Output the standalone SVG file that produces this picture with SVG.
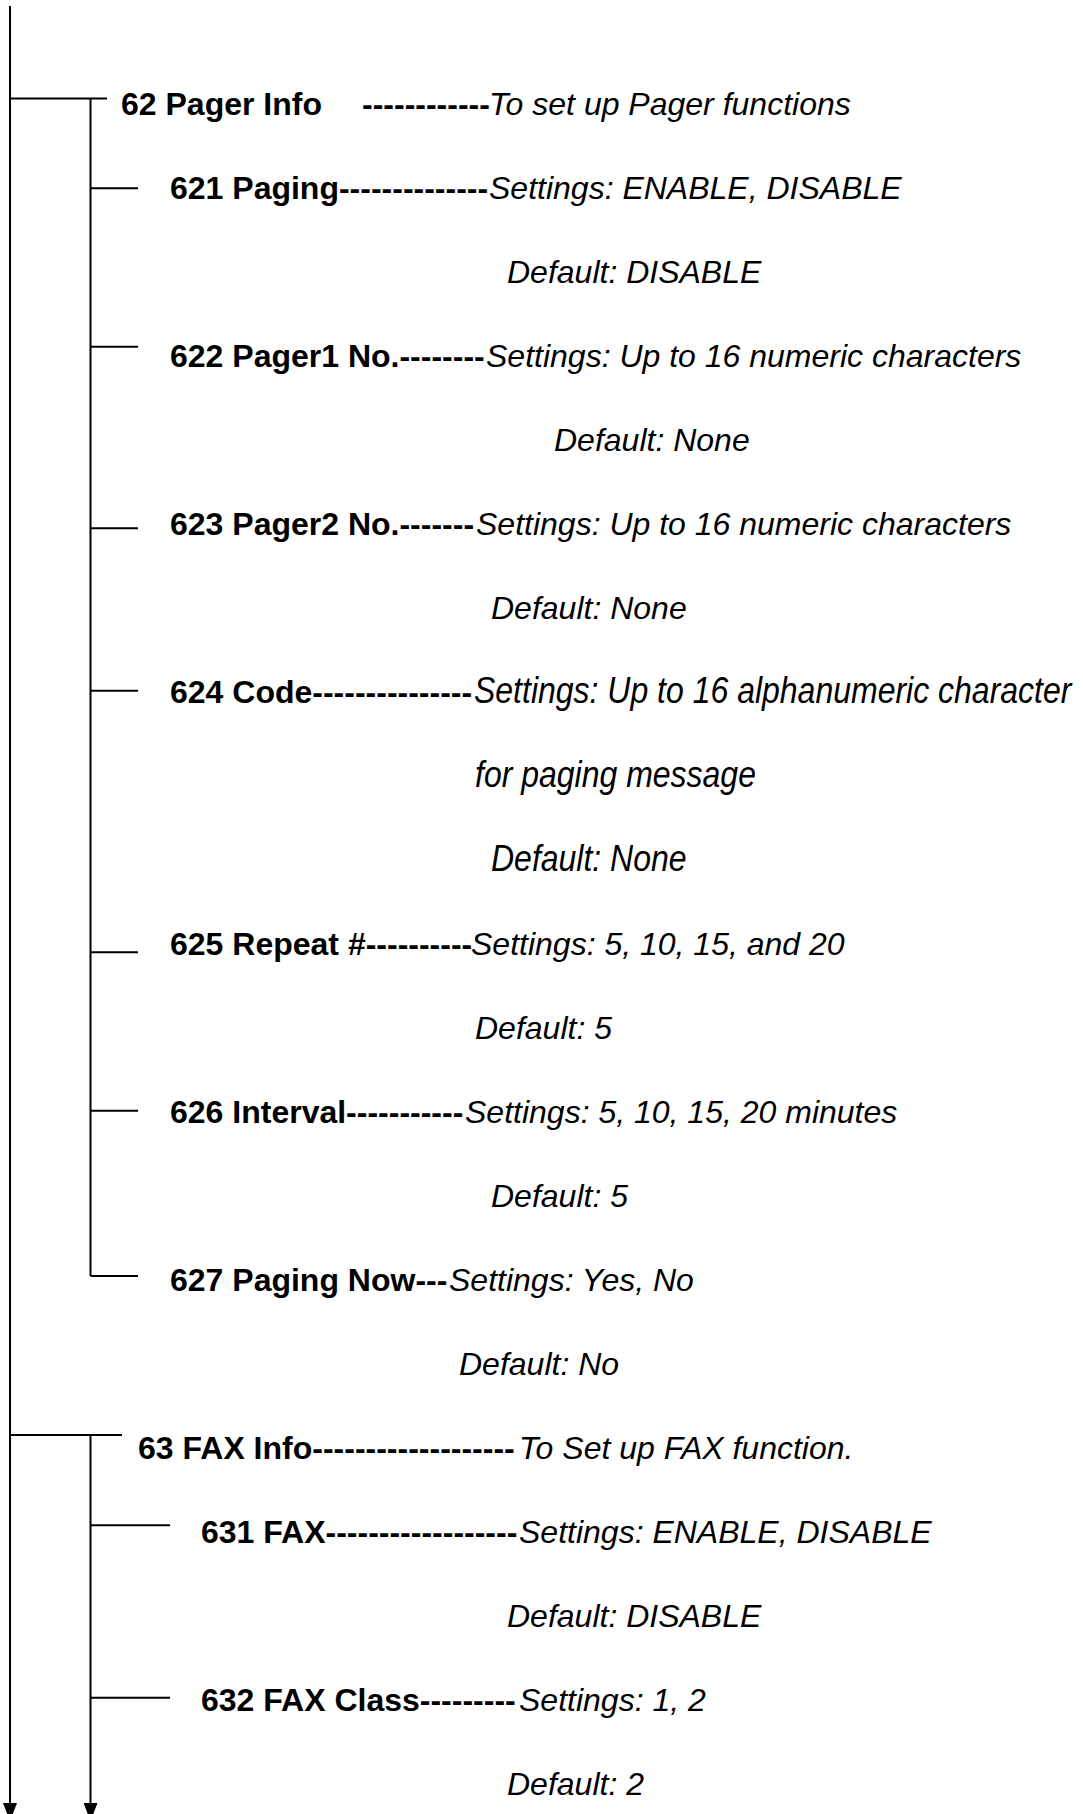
<svg xmlns="http://www.w3.org/2000/svg" width="1083" height="1814" viewBox="0 0 1083 1814">
<style>
.t{font-family:"Liberation Sans",Arial,sans-serif;font-size:32px;fill:#000}
.b{font-weight:bold}
.i{font-style:italic}
.ln{stroke:#000;stroke-width:2;fill:none}
</style>
<defs>
<marker id="ah" markerUnits="userSpaceOnUse" markerWidth="18" markerHeight="14" refX="18" refY="7" orient="auto">
<path d="M0,0 L18,7 L0,14 z" fill="#000"/>
</marker>
</defs>
<rect width="1083" height="1814" fill="#fff"/>
<g id="connectors">
<line class="ln" x1="10" y1="6" x2="10" y2="1821" marker-end="url(#ah)"/>
<line class="ln" x1="10" y1="98.5" x2="107" y2="98.5"/>
<line class="ln" x1="90.5" y1="98.5" x2="90.5" y2="1276"/>
<line class="ln" x1="90.5" y1="188.3" x2="138" y2="188.3"/>
<line class="ln" x1="90.5" y1="346.7" x2="138" y2="346.7"/>
<line class="ln" x1="90.5" y1="528.3" x2="138" y2="528.3"/>
<line class="ln" x1="90.5" y1="690.7" x2="138" y2="690.7"/>
<line class="ln" x1="90.5" y1="952.3" x2="138" y2="952.3"/>
<line class="ln" x1="90.5" y1="1110.7" x2="138" y2="1110.7"/>
<line class="ln" x1="90.5" y1="1276" x2="138" y2="1276"/>
<line class="ln" x1="10" y1="1435" x2="122" y2="1435"/>
<line class="ln" x1="90.5" y1="1435" x2="90.5" y2="1821" marker-end="url(#ah)"/>
<line class="ln" x1="90.5" y1="1525.3" x2="170" y2="1525.3"/>
<line class="ln" x1="90.5" y1="1697.7" x2="170" y2="1697.7"/>
</g>
<g id="n62">
<text class="t" y="115"><tspan class="b" x="121">62 Pager Info</tspan><tspan class="b" x="362">------------</tspan><tspan class="i" x="489">To set up Pager functions</tspan></text>
</g>
<g id="n621">
<text class="t" y="199"><tspan class="b" x="170">621 Paging--------------</tspan><tspan class="i" x="489">Settings: ENABLE, DISABLE</tspan></text>
<text class="t i" x="507" y="283">Default: DISABLE</text>
</g>
<g id="n622">
<text class="t" y="367"><tspan class="b" x="170">622 Pager1 No.--------</tspan><tspan class="i" x="486">Settings: Up to 16 numeric characters</tspan></text>
<text class="t i" x="554" y="451">Default: None</text>
</g>
<g id="n623">
<text class="t" y="535"><tspan class="b" x="170">623 Pager2 No.-------</tspan><tspan class="i" x="476">Settings: Up to 16 numeric characters</tspan></text>
<text class="t i" x="491" y="619">Default: None</text>
</g>
<g id="n624">
<text class="t b" x="170" y="703">624 Code---------------</text>
<text class="t i" x="474" y="703" transform="translate(0,703) scale(1,1.15) translate(0,-703)">Settings: Up to 16 alphanumeric character</text>
<text class="t i" x="475" y="787" transform="translate(0,787) scale(1,1.15) translate(0,-787)">for paging message</text>
<text class="t i" x="491" y="871" transform="translate(0,871) scale(1,1.15) translate(0,-871)">Default: None</text>
</g>
<g id="n625">
<text class="t" y="955"><tspan class="b" x="170">625 Repeat #----------</tspan><tspan class="i" x="471">Settings: 5, 10, 15, and 20</tspan></text>
<text class="t i" x="475" y="1039">Default: 5</text>
</g>
<g id="n626">
<text class="t" y="1123"><tspan class="b" x="170">626 Interval-----------</tspan><tspan class="i" x="465">Settings: 5, 10, 15, 20 minutes</tspan></text>
<text class="t i" x="491" y="1207">Default: 5</text>
</g>
<g id="n627">
<text class="t" y="1291"><tspan class="b" x="170">627 Paging Now---</tspan><tspan class="i" x="449">Settings: Yes, No</tspan></text>
<text class="t i" x="459" y="1375">Default: No</text>
</g>
<g id="n63">
<text class="t" y="1459"><tspan class="b" x="138">63 FAX Info-------------------</tspan><tspan class="i" x="519">To Set up FAX function.</tspan></text>
</g>
<g id="n631">
<text class="t" y="1543"><tspan class="b" x="201">631 FAX------------------</tspan><tspan class="i" x="519">Settings: ENABLE, DISABLE</tspan></text>
<text class="t i" x="507" y="1627">Default: DISABLE</text>
</g>
<g id="n632">
<text class="t" y="1711"><tspan class="b" x="201">632 FAX Class---------</tspan><tspan class="i" x="519">Settings: 1, 2</tspan></text>
<text class="t i" x="507" y="1795">Default: 2</text>
</g>
</svg>
